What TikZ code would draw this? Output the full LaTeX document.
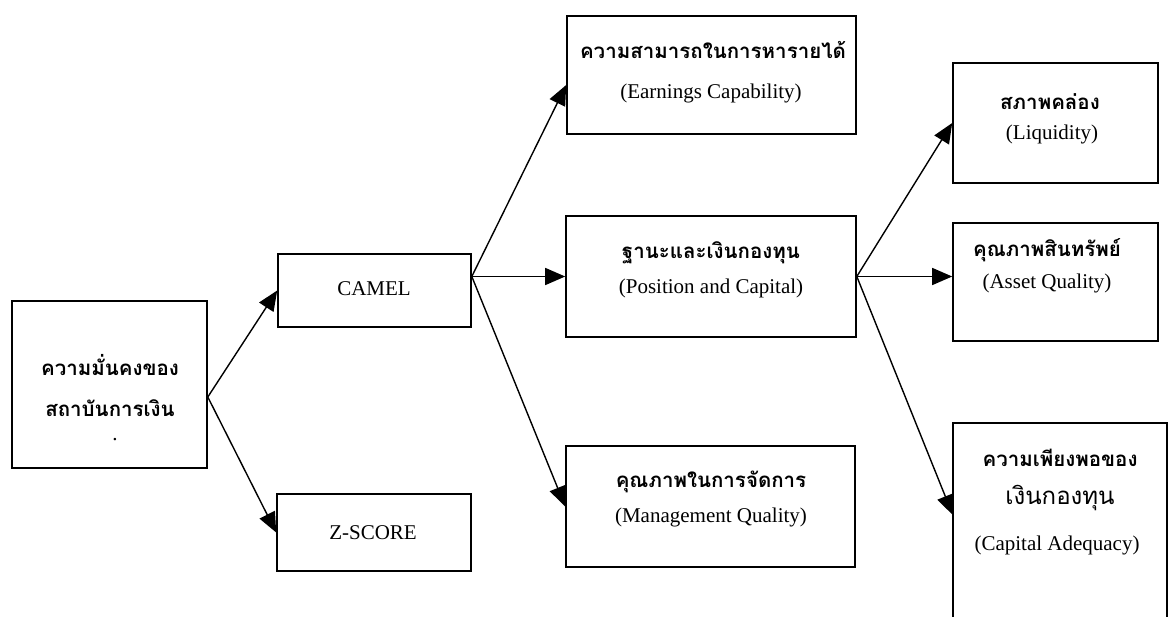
\documentclass[tikz,border=0pt]{standalone}
\usepackage{fontspec}
\setmainfont{Liberation Serif}
\newfontfamily\thaifont[Script=Thai]{Loma}
\usetikzlibrary{arrows.meta,calc}
\begin{document}
\begin{tikzpicture}[x=1pt,y=-1pt,
  box/.style={draw,line width=1.6pt,inner sep=0pt},
  en/.style={font=\fontsize{21}{24}\selectfont,inner sep=0pt},
  th/.style={font=\thaifont\bfseries\fontsize{20.5}{24}\selectfont,inner sep=0pt},
  thbig/.style={font=\thaifont\fontsize{24}{28}\selectfont,inner sep=0pt},
  arr/.style={line width=1.4pt,-{Triangle[length=20pt,width=17pt]}}]
\useasboundingbox (0,0) rectangle (1174,617);
% boxes
\node[box,minimum width=195pt,minimum height=167pt] (left) at (109.5,384.5) {};
\node[box,minimum width=193pt,minimum height=73pt] (camel) at (374.5,290.5) {};
\node[box,minimum width=194pt,minimum height=77pt] (zs) at (374,532.5) {};
\node[box,minimum width=289pt,minimum height=118pt] (earn) at (711.5,75) {};
\node[box,minimum width=290pt,minimum height=121pt] (pos) at (711,276.5) {};
\node[box,minimum width=289pt,minimum height=121pt] (mgmt) at (710.5,506.5) {};
\node[box,minimum width=205pt,minimum height=120pt] (liq) at (1055.5,123) {};
\node[box,minimum width=205pt,minimum height=118pt] (asset) at (1055.5,282) {};
\node[inner sep=0pt,minimum width=214pt,minimum height=202pt] (cap) at (1060,524) {};
\draw[line width=1.6pt] (cap.south west) -- (cap.north west) -- (cap.north east) -- (cap.south east);
% texts
\node[th] (t1) at (110,365) {ความมั่นคงของ};
\node[th] (t2) at (110,408) {สถาบันการเงิน};
\node[en,anchor=base] (tdot) at (115,440) {.};
\node[en] (tcamel) at (374,289) {CAMEL};
\node[en] (tzs) at (373,533) {Z-SCORE};
\node[th] (te1) at (713,50) {ความสามารถในการหารายได้};
\node[en] (te2) at (711,93) {(Earnings Capability)};
\node[th] (tp1) at (711,253) {ฐานะและเงินกองทุน};
\node[en] (tp2) at (711,288) {(Position and Capital)};
\node[th] (tm1) at (711,482) {คุณภาพในการจัดการ};
\node[en] (tm2) at (711,517) {(Management Quality)};
\node[th] (tl1) at (1050,102) {สภาพคล่อง};
\node[en] (tl2) at (1052,134) {(Liquidity)};
\node[th] (ta1) at (1047,250) {คุณภาพสินทรัพย์};
\node[en] (ta2) at (1047,283) {(Asset Quality)};
\node[th] (tc1) at (1060,458) {ความเพียงพอของ};
\node[thbig] (tc2) at (1060,498) {เงินกองทุน};
\node[en] (tc3) at (1057,545) {(Capital Adequacy)};
% connectors
\coordinate (lo) at ([yshift=-12.5pt]left.east);
\coordinate (co) at (camel.east |- pos.west);
\coordinate (po) at (pos.east);
\draw[arr] (lo) -- (camel.west);
\draw[arr] (lo) -- (zs.west);
\draw[arr] (co) -- ([yshift=-10pt]earn.west);
\draw[arr] (co) -- (pos.west);
\draw[arr] (co) -- (mgmt.west);
\draw[arr] (po) -- (liq.west);
\draw[arr] (po) -- (po -| asset.west);
\draw[arr] (po) -- ([yshift=9pt]cap.west);
\end{tikzpicture}
\end{document}
